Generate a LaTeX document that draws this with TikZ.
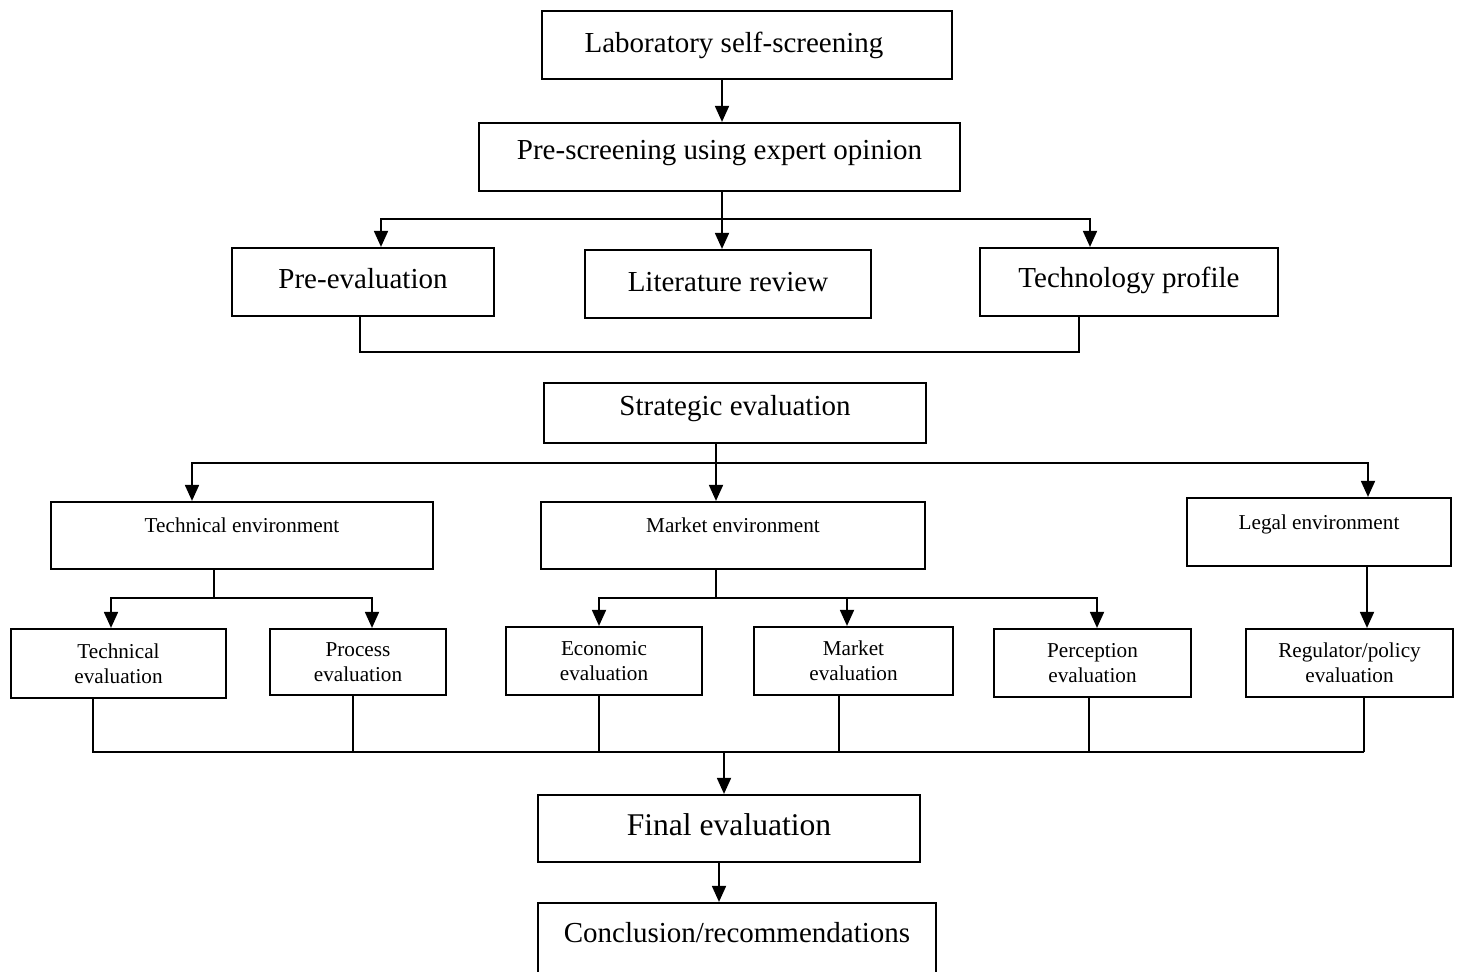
\documentclass[tikz,border=0pt]{standalone}
\usepackage{fontspec}
\setmainfont{Liberation Serif}
\usetikzlibrary{arrows.meta}
\begin{document}
\begin{tikzpicture}[x=0.5pt,y=-0.5pt,
  box/.style={draw, line width=1.1pt, inner sep=0pt, align=center},
  tb/.style={text height=10pt, text depth=#1},
  bigtxt/.style={font=\fontsize{14.5}{17}\selectfont},
  hugetxt/.style={font=\fontsize{15.8}{18}\selectfont},
  smalltxt/.style={font=\fontsize{10.6}{12.5}\selectfont},
  link/.style={line width=0.9pt},
  arr/.style={link, -{Triangle[width=7pt,length=8pt]}}]
\useasboundingbox (0,0) rectangle (1462,971);
\clip (0,0) rectangle (1462,971);

% screening stages
\node[box,bigtxt,minimum width=205pt,minimum height=34pt,tb=3pt] (lab) at (747,45) {Laboratory self-screening\hspace*{13pt}};
\node[box,bigtxt,minimum width=240.5pt,minimum height=34pt,tb=8pt] (pre) at (719.5,157) {Pre-screening using expert opinion};
\node[box,bigtxt,minimum width=131pt,minimum height=34pt,tb=4pt] (peval) at (363,282) {Pre-evaluation};
\node[box,bigtxt,minimum width=143pt,minimum height=34pt,tb=3pt] (lit) at (728,284) {Literature review};
\node[box,bigtxt,minimum width=149pt,minimum height=34pt,tb=5pt] (tech) at (1129,282) {Technology profile};
\node[box,bigtxt,minimum width=191pt,minimum height=30pt,tb=8pt] (strat) at (735,413) {Strategic evaluation};

% environments
\node[box,smalltxt,minimum width=191pt,minimum height=33.5pt,tb=13.5pt] (tenv) at (242,535.5) {Technical environment};
\node[box,smalltxt,minimum width=192pt,minimum height=33.5pt,tb=13.5pt] (menv) at (733,535.5) {Market environment};
\node[box,smalltxt,minimum width=132pt,minimum height=34pt,tb=13pt] (lenv) at (1319,532) {Legal environment};

% detailed evaluations
\node[box,smalltxt,minimum width=107.5pt,minimum height=34.5pt] (teval) at (118.5,663.5) {Technical\\evaluation};
\node[box,smalltxt,minimum width=88pt,minimum height=33pt] (pev) at (358,662) {Process\\evaluation};
\node[box,smalltxt,minimum width=98pt,minimum height=34pt] (econ) at (604,661) {Economic\\evaluation};
\node[box,smalltxt,minimum width=99.5pt,minimum height=34pt] (mev) at (853.5,661) {Market\\evaluation};
\node[box,smalltxt,minimum width=98.5pt,minimum height=34pt] (perc) at (1092.5,663) {Perception\\evaluation};
\node[box,smalltxt,minimum width=103.5pt,minimum height=34pt] (reg) at (1349.5,663) {Regulator/policy\\evaluation};

% final stages
\node[box,hugetxt,minimum width=191pt,minimum height=33.5pt,tb=3.5pt] (final) at (729,828.5) {Final evaluation};
\node[box,bigtxt,minimum width=199pt,minimum height=35pt,tb=6pt] (concl) at (737,938) {Conclusion/recommendations};

% connectors: screening
\coordinate (la) at (722,0);
\draw[arr] (lab.south -| la) -- (pre.north -| la);
\coordinate (j1) at (722,219);
\draw[link] (pre.south -| j1) -- (j1);
\draw[arr] (j1) -| ([xshift=9pt]peval.north);
\draw[arr] (j1) -- (lit.north -| j1);
\draw[arr] (j1) -| ([xshift=-19.5pt]tech.north);
\draw[link] ([xshift=-1.5pt]peval.south) -- ++(0,35) -| ([xshift=-25pt]tech.south);

% connectors: strategic evaluation to environments
\coordinate (j2) at (716,463);
\draw[link] (strat.south -| j2) -- (j2);
\draw[arr] (j2) -| ([xshift=-25pt]tenv.north);
\draw[arr] (j2) -- (menv.north -| j2);
\draw[arr] (j2) -| ([xshift=24.5pt]lenv.north);

% connectors: environments to evaluations
\coordinate (j3) at (214,598);
\draw[link] (tenv.south -| j3) -- (j3);
\draw[arr] (j3) -| ([xshift=-3.75pt]teval.north);
\draw[arr] (j3) -| ([xshift=7pt]pev.north);
\coordinate (j4) at (716,598);
\draw[link] (menv.south -| j4) -- (j4);
\draw[arr] (j4) -| ([xshift=-2.5pt]econ.north);
\draw[arr] (j4) -| ([xshift=-3.25pt]mev.north);
\draw[arr] (j4) -| ([xshift=2.25pt]perc.north);
\coordinate (lx) at (1367,0);
\draw[arr] (lenv.south -| lx) -- (reg.north -| lx);

% collecting bus
\coordinate (busR) at (1364,752);
\draw[link] ([xshift=-12.75pt]teval.south) |- (busR);
\draw[link] ([xshift=7.25pt]reg.south) -- (busR);
\coordinate (b1) at ([xshift=-2.5pt]pev.south);
\draw[link] (b1) -- (b1 |- busR);
\coordinate (b2) at ([xshift=-2.5pt]econ.south);
\draw[link] (b2) -- (b2 |- busR);
\coordinate (b3) at ([xshift=-7.25pt]mev.south);
\draw[link] (b3) -- (b3 |- busR);
\coordinate (b4) at ([xshift=-1.75pt]perc.south);
\draw[link] (b4) -- (b4 |- busR);
\coordinate (ft) at ([xshift=-2.5pt]final.north);
\draw[arr] (ft |- busR) -- (ft);
\coordinate (fc) at ([xshift=-5pt]final.south);
\draw[arr] (fc) -- (fc |- concl.north);
\end{tikzpicture}
\end{document}
